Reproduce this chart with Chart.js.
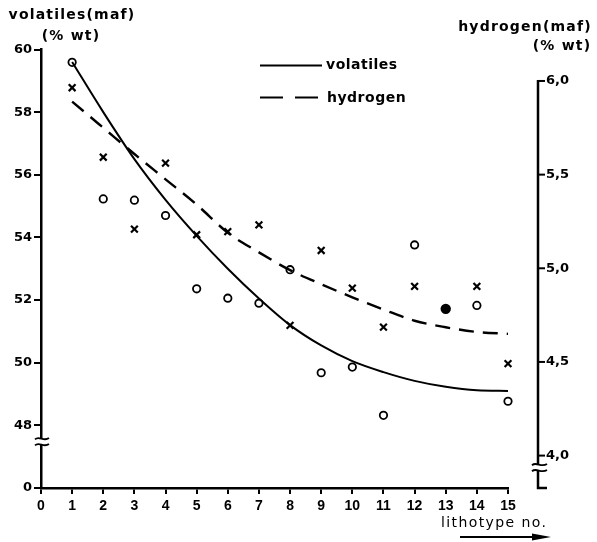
<!DOCTYPE html>
<html><head><meta charset="utf-8">
<script src="https://cdn.jsdelivr.net/npm/chart.js@4/dist/chart.umd.min.js"></script>
<style>html,body{margin:0;padding:0;background:#fff;}#wrap{width:597px;height:542px;}</style>
</head><body><div id="wrap"><canvas id="c" width="597" height="542"></canvas></div>
<script>
// ---- data ----
const lithotypes = [1,2,3,4,5,6,7,8,9,10,11,12,13,14,15];
const volatiles = [59.59,55.23,55.19,54.70,52.36,52.06,51.90,52.97,49.68,49.86,48.32,53.76,51.72,51.83,48.77];
const hydrogen  = [5.964,5.593,5.209,5.561,5.179,5.196,5.232,4.695,5.095,4.894,4.686,4.903,4.784,4.903,4.491];
const volatilesFit = [59.6,58.0,56.5,55.2,54.05,53.0,52.05,51.2,50.55,50.05,49.7,49.42,49.23,49.12,49.1];
const hydrogenFit  = [5.89,5.75,5.61,5.475,5.34,5.19,5.085,4.99,4.915,4.845,4.78,4.72,4.685,4.66,4.65];
const coincident = [13];           // lithotype where both measurements fall on one filled dot
const xTickValues = [0,1,2,3,4,5,6,7,8,9,10,11,12,13,14,15];
const volTickValues = [46,48,50,52,54,56,58,60];   // 46 stands for the broken-axis "0"
const volTickLabels = ['0','48','50','52','54','56','58','60'];
const hydTickValues = [4.0,4.5,5.0,5.5,6.0];
const hydTickLabels = ['4,0','4,5','5,0','5,5','6,0'];
const volRange = [46,60];
const hydRange = [3.827,6.168];
const volBreakAt = 47.48;
const hydBreakAt = 3.936;

const BLACK = '#000';
const pts = (ys) => lithotypes.map((x,i)=>({x:x,y:ys[i]}));
const isCoincident = (c) => !!(c.raw && coincident.includes(c.raw.x));

function drawTilde(ctx, x1, x2, y, amp){
  ctx.beginPath();
  const w = x2-x1;
  ctx.moveTo(x1, y+amp*0.3);
  ctx.bezierCurveTo(x1+w*0.3, y-amp*1.6, x1+w*0.6, y+amp*1.6, x2, y-amp*0.3);
  ctx.stroke();
}

const decor = {
  id:'decor',
  afterDraw(chart){
    const ctx = chart.ctx, ca = chart.chartArea;
    const y = chart.scales.y, y2 = chart.scales.y2;
    ctx.save();
    ctx.strokeStyle = BLACK; ctx.fillStyle = BLACK;
    // right axis
    const rx = ca.right + 30;
    const top = y2.getPixelForValue(hydTickValues[hydTickValues.length-1]);
    ctx.lineWidth = 2.5; ctx.lineCap='butt';
    ctx.beginPath(); ctx.moveTo(rx, top-1); ctx.lineTo(rx, ca.bottom); ctx.lineTo(rx+9, ca.bottom); ctx.stroke();
    ctx.lineWidth = 2;
    hydTickValues.forEach(v=>{
      const py = y2.getPixelForValue(v);
      ctx.beginPath(); ctx.moveTo(rx, py); ctx.lineTo(rx+7, py); ctx.stroke();
    });
    // breaks
    const lb = y.getPixelForValue(volBreakAt);
    ctx.fillStyle='#fff'; ctx.fillRect(ca.left-3, lb-3, 6, 6);
    ctx.lineWidth=1.8;
    drawTilde(ctx, ca.left-6, ca.left+8, lb-3, 2.2);
    drawTilde(ctx, ca.left-6, ca.left+8, lb+3, 2.2);
    const rb = y2.getPixelForValue(hydBreakAt);
    ctx.fillStyle='#fff'; ctx.fillRect(rx-3, rb-3, 6, 6);
    drawTilde(ctx, rx-6, rx+9, rb-3, 2.2);
    drawTilde(ctx, rx-6, rx+9, rb+3, 2.2);
    ctx.fillStyle = BLACK;
    // legend
    const lx = ca.left + 219;
    ctx.lineWidth = 2;
    ctx.beginPath(); ctx.moveTo(lx, 65.5); ctx.lineTo(lx+62, 65.5); ctx.stroke();
    ctx.setLineDash([23,12]);
    ctx.beginPath(); ctx.moveTo(lx, 97.5); ctx.lineTo(lx+63, 97.5); ctx.stroke();
    ctx.setLineDash([]);
    ctx.textBaseline = 'middle'; ctx.textAlign='left';
    ctx.font = 'bold 14px "DejaVu Sans"';
    ctx.letterSpacing = '0.5px';
    ctx.fillText('volatiles', lx+66, 65);
    ctx.fillText('hydrogen', lx+67, 98);
    // axis titles
    ctx.textAlign='center';
    ctx.letterSpacing = '1.2px';
    ctx.font = 'bold 14px "DejaVu Sans"';
    ctx.fillText('volatiles(maf)', 72, 15);
    ctx.fillText('(% wt)', 71, 36);
    ctx.fillText('hydrogen(maf)', 525, 27);
    ctx.fillText('(% wt)', 562, 46);
    ctx.textAlign='left';
    ctx.font = '14px "DejaVu Sans"';
    ctx.letterSpacing = '1.4px';
    ctx.fillText('lithotype no.', 441, 523);
    ctx.letterSpacing = '0px';
    // arrow
    ctx.lineWidth = 2.2;
    ctx.beginPath(); ctx.moveTo(460, 537); ctx.lineTo(536, 537); ctx.stroke();
    ctx.beginPath(); ctx.moveTo(532, 533.5); ctx.lineTo(551, 537); ctx.lineTo(532, 540.5); ctx.closePath(); ctx.fill();
    ctx.restore();
  }
};

const tickGrid = (len)=>({display:true, drawOnChartArea:false, drawTicks:true, tickLength:len, color:BLACK, lineWidth:2});

new Chart(document.getElementById('c').getContext('2d'), {
  type:'scatter',
  data:{datasets:[
    {label:'volatiles', data:pts(volatilesFit), yAxisID:'y', showLine:true, borderColor:BLACK, borderWidth:2,
     pointRadius:0, cubicInterpolationMode:'monotone', fill:false, clip:false},
    {label:'hydrogen', data:pts(hydrogenFit), yAxisID:'y2', showLine:true, borderColor:BLACK, borderWidth:2.4,
     borderDash:[15,9], pointRadius:0, cubicInterpolationMode:'monotone', fill:false, clip:false},
    {label:'hydrogen (measured)', data:pts(hydrogen), yAxisID:'y2', showLine:false, pointStyle:'crossRot',
     pointRadius:(c)=> isCoincident(c) ? 3.5 : 4.8, borderWidth:2.2, borderColor:BLACK, backgroundColor:BLACK, clip:false},
    {label:'volatiles (measured)', data:pts(volatiles), yAxisID:'y', showLine:false, pointStyle:'circle',
     pointRadius:(c)=> isCoincident(c) ? 4.3 : 3.7, borderWidth:1.8, borderColor:BLACK,
     backgroundColor:(c)=> isCoincident(c) ? BLACK : '#fff', clip:false}
  ]},
  options:{
    responsive:false, animation:false, devicePixelRatio:1,
    layout:{padding:{top:49.5,left:0,right:0,bottom:0}},
    plugins:{legend:{display:false}, tooltip:{enabled:false}},
    scales:{
      x:{type:'linear', min:xTickValues[0], max:xTickValues[xTickValues.length-1],
         afterBuildTicks:(s)=>{s.ticks = xTickValues.map(v=>({value:v}));},
         afterFit:(s)=>{s.height = 54;},
         grid:tickGrid(6), border:{display:true, color:BLACK, width:2.5},
         ticks:{color:BLACK, padding:4, maxRotation:0, autoSkip:false,
                font:{family:'"Liberation Sans"', size:14, weight:'bold'}}},
      y:{type:'linear', position:'left', min:volRange[0], max:volRange[1],
         afterBuildTicks:(s)=>{s.ticks = volTickValues.map(v=>({value:v}));},
         afterFit:(s)=>{s.width = 41;},
         grid:tickGrid(7), border:{display:true, color:BLACK, width:2.5},
         ticks:{color:BLACK, padding:2, callback:(v)=>volTickLabels[volTickValues.indexOf(v)],
                font:{family:'"DejaVu Sans"', size:13, weight:'bold'}}},
      y2:{type:'linear', position:'right', min:hydRange[0], max:hydRange[1],
         afterBuildTicks:(s)=>{s.ticks = hydTickValues.map(v=>({value:v}));},
         afterFit:(s)=>{s.width = 89;},
         grid:{display:false, drawTicks:false}, border:{display:false},
         ticks:{color:BLACK, padding:38, callback:(v)=>hydTickLabels[hydTickValues.indexOf(v)],
                font:{family:'"DejaVu Sans"', size:13, weight:'bold'}}}
    }
  },
  plugins:[decor]
});
</script></body></html>
